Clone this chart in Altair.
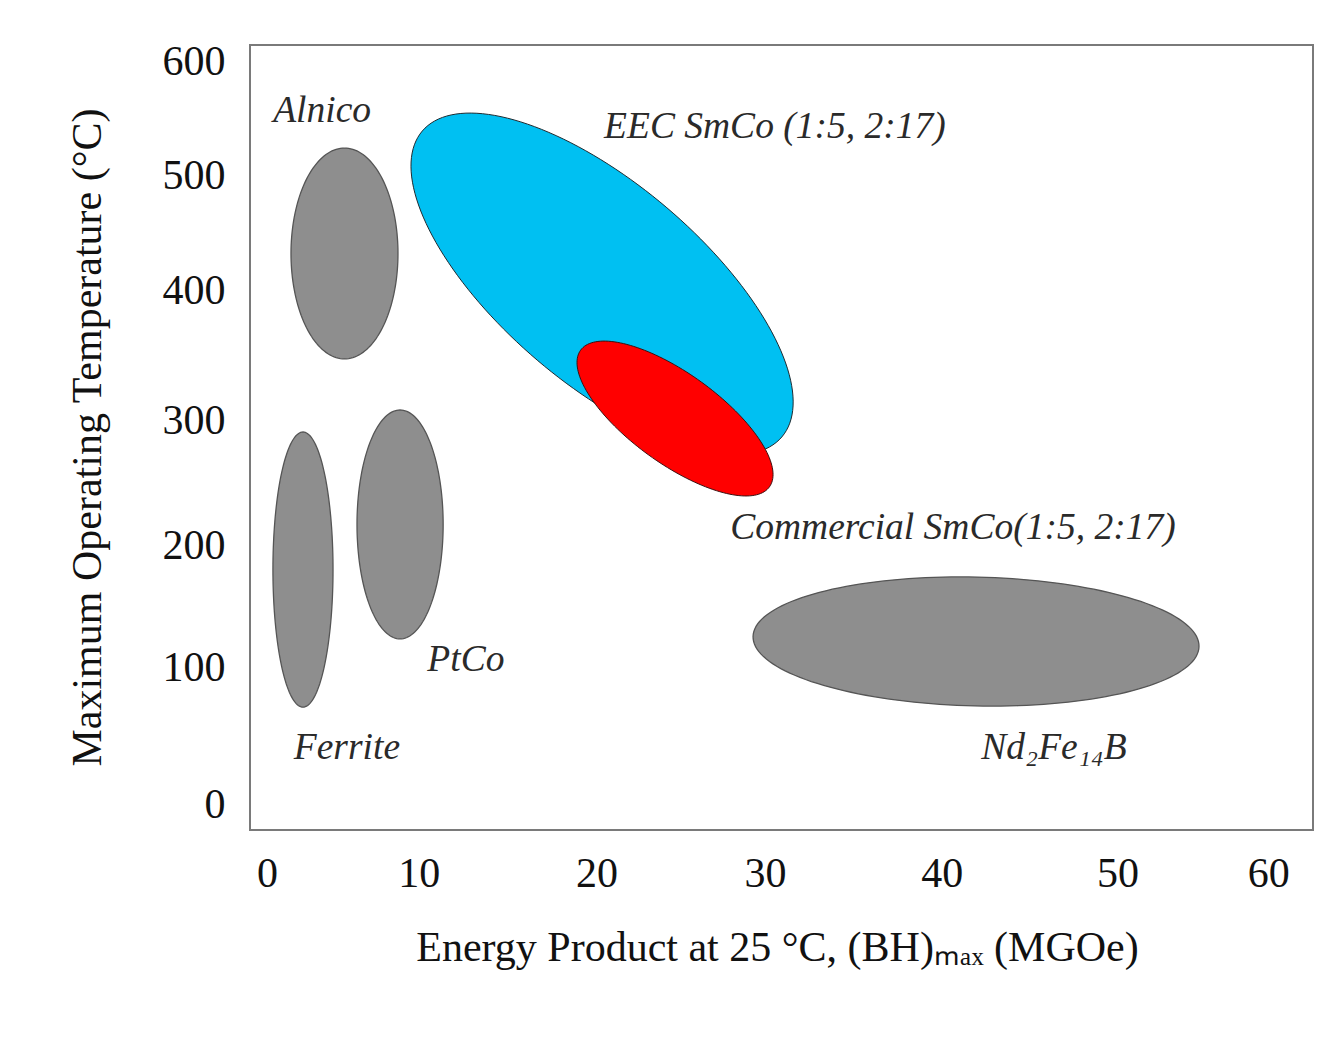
import math
import altair as alt
import pandas as pd

# ---------------- data ----------------
materials = ["Alnico", "Ferrite", "PtCo", "Nd2Fe14B", "EEC SmCo", "Commercial SmCo"]
center_bh = [5.44, 3.05, 8.64, 41.8, 20.27, 24.47]          # MGOe
center_temp = [437.9, 183.0, 219.4, 125.0, 413.3, 304.8]    # deg C
semi_major = [6.07, 7.92, 6.59, 12.84, 13.59, 6.71]         # MGOe-equivalent
semi_minor = [3.08, 1.73, 2.48, 3.71, 5.76, 2.59]           # MGOe-equivalent
tilt_deg = [90, 90, 90, -1.3, -40.4, -35.9]
group = ["gray", "gray", "gray", "gray", "eec", "commercial"]

label_text = ["Alnico", "EEC SmCo (1:5, 2:17)", "Commercial SmCo(1:5, 2:17)",
              "Nd\u2082Fe\u2081\u2084B", "Ferrite", "PtCo"]
label_bh = [4.15, 30.22, 40.47, 46.29, 5.58, 12.43]
label_temp = [552.8, 539.9, 216.5, 39.1, 39.1, 110.1]

x_ticks = [0, 10, 20, 30, 40, 50, 60]
y_ticks = [0, 100, 200, 300, 400, 500, 600]
x_domain = [0, 61.2]
y_domain = [-27, 606]

# label nudges as printed in the original (scanned) figure
x_label_nudge = [17, -5, -1, -6, -3, -1, -24]
y_label_nudge = [8, -5, -3, -4, -10, -1, 9]

# ---------------- layout ----------------
W, H = 1063, 785
ASPECT = (W / (x_domain[1] - x_domain[0])) / (H / (y_domain[1] - y_domain[0]))
N = 160

rows = []
for i, m in enumerate(materials):
    phi = math.radians(tilt_deg[i])
    for k in range(N + 1):
        t = 2 * math.pi * k / N
        u = semi_major[i] * math.cos(t)
        v = semi_minor[i] * math.sin(t)
        dx = u * math.cos(phi) - v * math.sin(phi)
        dy = u * math.sin(phi) + v * math.cos(phi)
        rows.append({"material": m, "group": group[i], "k": k,
                     "bh": center_bh[i] + dx,
                     "temp": center_temp[i] + dy * ASPECT})
outline = pd.DataFrame(rows)
labels = pd.DataFrame({"text": label_text, "bh": label_bh, "temp": label_temp})

SERIF = "Liberation Serif"


def nudges(ticks, offs):
    return {"condition": [{"test": f"datum.value == {t}", "value": o}
                          for t, o in zip(ticks, offs)],
            "value": 0}


xscale = alt.Scale(domain=x_domain, nice=False, zero=False)
yscale = alt.Scale(domain=y_domain, nice=False, zero=False)

xaxis = alt.Axis(
    values=x_ticks, grid=False, domain=False, ticks=False, tickSize=0,
    labelFont=SERIF, labelFontSize=42, labelColor="#111111",
    labelPadding=43, labelBaseline="middle", labelFlush=False,
    labelOffset=nudges(x_ticks, x_label_nudge),
    title="Energy Product at 25 \u00b0C, (BH)\u2098\u2090\u2093 (MGOe)",
    titleFont=SERIF, titleFontSize=42, titleFontWeight="normal", titleColor="#111111",
    titleX=527, titleY=130, titleBaseline="alphabetic",
)
yaxis = alt.Axis(
    values=y_ticks, grid=False, domain=False, ticks=False, tickSize=0,
    labelFont=SERIF, labelFontSize=42, labelColor="#111111", labelPadding=25,
    labelFlush=False,
    labelOffset=nudges(y_ticks, y_label_nudge),
    title="Maximum Operating Temperature (\u00b0C)",
    titleFont=SERIF, titleFontSize=42, titleFontWeight="normal", titleColor="#111111",
    titleX=-150, titleY=392, titleBaseline="alphabetic", titleAngle=-90,
)

base = alt.Chart(outline)
enc = dict(
    x=alt.X("bh:Q", scale=xscale, axis=xaxis),
    y=alt.Y("temp:Q", scale=yscale, axis=yaxis),
    order="k:Q",
    detail="material:N",
)

gray = base.transform_filter(alt.datum.group == "gray").mark_line(
    fill="#8e8e8e", stroke="#555555", strokeWidth=1.3).encode(**enc)
eec = base.transform_filter(alt.datum.group == "eec").mark_line(
    fill="#00c0f2", stroke="#1e2a30", strokeWidth=1.0).encode(**enc)
com = base.transform_filter(alt.datum.group == "commercial").mark_line(
    fill="#ff0000", stroke="#3a1010", strokeWidth=1.0).encode(**enc)

text = alt.Chart(labels).mark_text(
    font=SERIF, fontStyle="italic", fontSize=37.5, color="#2a2a2a",
    align="center", baseline="middle",
).encode(x=alt.X("bh:Q", scale=xscale), y=alt.Y("temp:Q", scale=yscale), text="text:N")

chart = alt.layer(gray, eec, com, text).properties(
    width=W, height=H,
    autosize=alt.AutoSizeParams(type="none"),
    padding={"left": 242, "top": 37, "right": 21, "bottom": 205},
    background="white",
).configure_view(stroke="#7a7a7a", strokeWidth=2)

chart.save("out.html", embed_options={"renderer": "svg", "actions": False})
